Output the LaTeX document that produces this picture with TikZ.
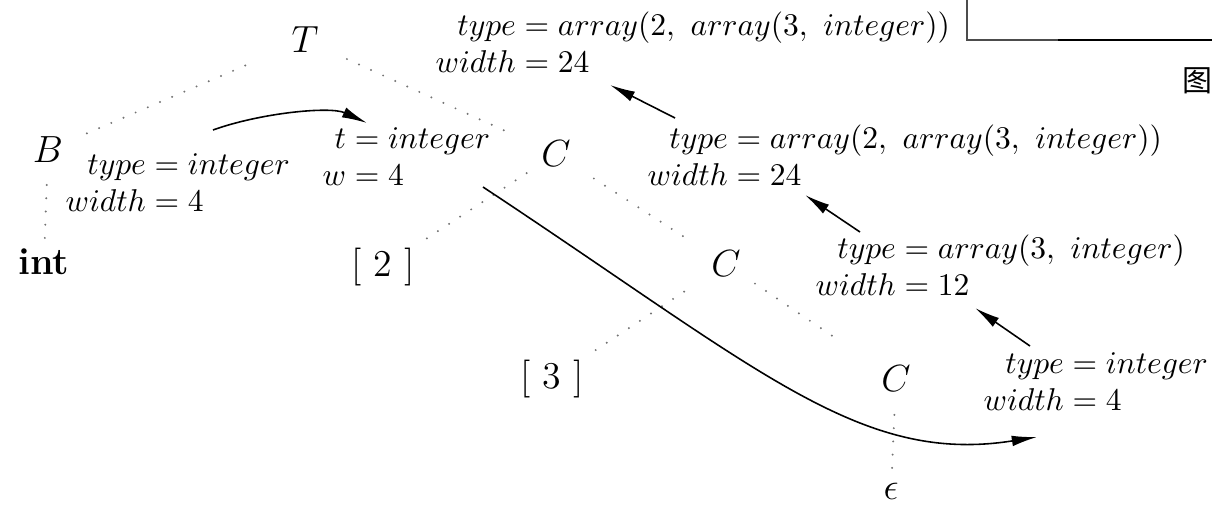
\documentclass[tikz,border=0pt]{standalone}
\usepackage{fontspec}
\newfontfamily\cjkfont{Noto Sans CJK SC}
\usetikzlibrary{arrows.meta,calc}
\begin{document}
\begin{tikzpicture}[x=0.317pt,y=-0.317pt,
  tnode/.style={inner sep=0pt,font=\large},
  attr/.style={inner sep=0pt,anchor=base west},
  treeedge/.style={line width=0.7pt,black!55,dash pattern=on 0pt off 4.2pt,line cap=round},
  flow/.style={line width=0.5pt,-{Latex[length=8pt,width=3.4pt]}},
]
\useasboundingbox (0,0) rectangle (1212,505);

% tree nodes
\node[tnode] (T) at (305,40) {$T$};
\node[tnode] (B) at (48,150) {$B$};
\node[tnode,font=\large\bfseries] (int) at (44,262) {int};
\node[tnode] (C1) at (556,154) {$C$};
\node[tnode] (L2) at (383,267) {[ 2 ]};
\node[tnode] (C2) at (726,264) {$C$};
\node[tnode] (L3) at (552,379) {[ 3 ]};
\node[tnode] (C3) at (896,379) {$C$};
\node[tnode] (eps) at (891,491) {$\epsilon$};

% tree edges
\draw[treeedge,shorten <=20.6pt,shorten >=13.3pt] (T.center) -- (B.center);
\draw[treeedge,shorten <=14.6pt,shorten >=15.5pt] (T.center) -- (C1.center);
\draw[treeedge,shorten <=11.1pt,shorten >=7pt] (B.center) -- (int.center);
\draw[treeedge,shorten <=11.1pt,shorten >=14.3pt] (C1.center) -- (L2.center);
\draw[treeedge,shorten <=14.3pt,shorten >=13.3pt] (C1.center) -- (C2.center);
\draw[treeedge,shorten <=15.9pt,shorten >=13.9pt] (C2.center) -- (L3.center);
\draw[treeedge,shorten <=11.1pt,shorten >=22.2pt] (C2.center) -- (C3.center);
\draw[treeedge,shorten <=11.4pt,shorten >=6.5pt] (C3.center) -- (eps.center);

% attribute blocks
\node[attr] (a1) at (435,35) {$\begin{array}[t]{@{}r@{}l@{}} type & {}= array(2,\ array(3,\ integer))\\ width & {}= 24\end{array}$};
\node[attr] (a2) at (647,148) {$\begin{array}[t]{@{}r@{}l@{}} type & {}= array(2,\ array(3,\ integer))\\ width & {}= 24\end{array}$};
\node[attr] (a3) at (815,258) {$\begin{array}[t]{@{}r@{}l@{}} type & {}= array(3,\ integer)\\ width & {}= 12\end{array}$};
\node[attr] (a4) at (983,373) {$\begin{array}[t]{@{}r@{}l@{}} type & {}= integer\\ width & {}= 4\end{array}$};
\node[attr] (aB) at (65,174) {$\begin{array}[t]{@{}r@{}l@{}} type & {}= integer\\ width & {}= 4\end{array}$};
\node[attr] (at) at (322,148) {$\begin{array}[t]{@{}r@{}l@{}} t & {}= integer\\ w & {}= 4\end{array}$};

% flow arrows
\draw[flow] ($(aB.base west)+(148,-44)$) .. controls (260,113) and (330,106) .. ($(at.base west)+(45,-25)$);
\draw[flow] ($(a2.base west)+(28,-30)$) -- ($(a1.base west)+(175,50)$);
\draw[flow] ($(a3.base west)+(45,-26)$) -- ($(a2.base west)+(158,47)$);
\draw[flow] ($(a4.base west)+(47,-27)$) -- ($(a3.base west)+(160,50)$);
\draw[flow] ($(at.base west)+(161,39)$) .. controls (760,370) and (860,465) .. ($(a4.base west)+(54,64)$);

% cropped box fragment and caption character
\draw[line width=0.4pt,black!70] (967,0) -- (967,40) -- (1058,40);
\draw[line width=0.9pt] (1058,40) -- (1212,40);
\node[inner sep=0pt,font=\cjkfont\fontsize{9.5}{9.5}\selectfont] (fig) at (1197,81) {图};
\end{tikzpicture}
\end{document}
